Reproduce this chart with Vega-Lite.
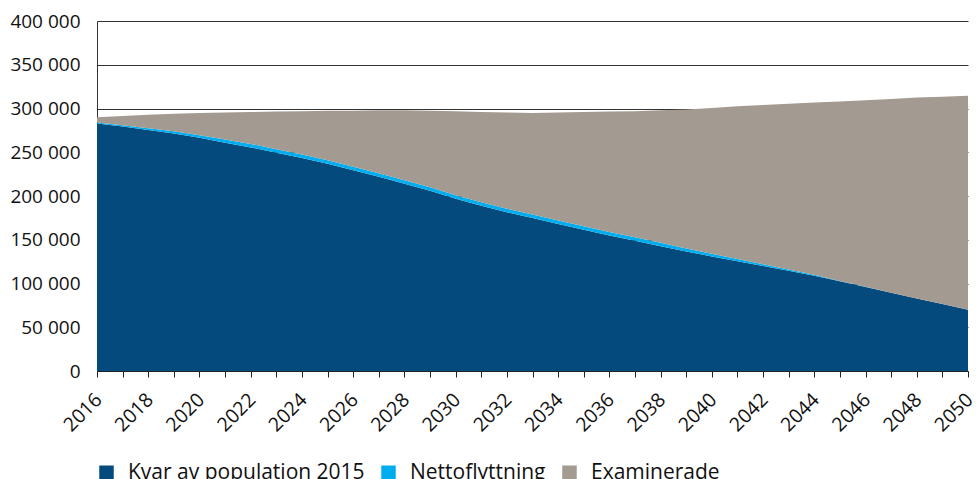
{
  "$schema": "https://vega.github.io/schema/vega-lite/v6.json",
  "width": 871,
  "height": 350,
  "autosize": {"type": "none"},
  "padding": {"left": 97, "top": 21, "right": 8, "bottom": 108},
  "config": {
    "view": {"stroke": null},
    "font": "Open Sans",
    "locale": {"number": {"decimal": ",", "thousands": " ", "grouping": [3], "currency": ["", " kr"]}}
  },
  "data": {
    "values": [
      {"year": 2016, "Kvar av population 2015": 283000, "Nettoflyttning": 1000, "Examinerade": 6000},
      {"year": 2017, "Kvar av population 2015": 279500, "Nettoflyttning": 1500, "Examinerade": 10500},
      {"year": 2018, "Kvar av population 2015": 275500, "Nettoflyttning": 2000, "Examinerade": 15500},
      {"year": 2019, "Kvar av population 2015": 271500, "Nettoflyttning": 2500, "Examinerade": 20000},
      {"year": 2020, "Kvar av population 2015": 266500, "Nettoflyttning": 3000, "Examinerade": 25500},
      {"year": 2021, "Kvar av population 2015": 261000, "Nettoflyttning": 3500, "Examinerade": 31000},
      {"year": 2022, "Kvar av population 2015": 255500, "Nettoflyttning": 4000, "Examinerade": 36500},
      {"year": 2023, "Kvar av population 2015": 249500, "Nettoflyttning": 4000, "Examinerade": 43000},
      {"year": 2024, "Kvar av population 2015": 243500, "Nettoflyttning": 4000, "Examinerade": 49500},
      {"year": 2025, "Kvar av population 2015": 237000, "Nettoflyttning": 4000, "Examinerade": 56500},
      {"year": 2026, "Kvar av population 2015": 229500, "Nettoflyttning": 4000, "Examinerade": 64000},
      {"year": 2027, "Kvar av population 2015": 222000, "Nettoflyttning": 4000, "Examinerade": 72000},
      {"year": 2028, "Kvar av population 2015": 214000, "Nettoflyttning": 4000, "Examinerade": 80000},
      {"year": 2029, "Kvar av population 2015": 206000, "Nettoflyttning": 4000, "Examinerade": 87500},
      {"year": 2030, "Kvar av population 2015": 197000, "Nettoflyttning": 4000, "Examinerade": 96000},
      {"year": 2031, "Kvar av population 2015": 189000, "Nettoflyttning": 4000, "Examinerade": 103000},
      {"year": 2032, "Kvar av population 2015": 181500, "Nettoflyttning": 4000, "Examinerade": 110000},
      {"year": 2033, "Kvar av population 2015": 175000, "Nettoflyttning": 4000, "Examinerade": 116000},
      {"year": 2034, "Kvar av population 2015": 168000, "Nettoflyttning": 4000, "Examinerade": 123500},
      {"year": 2035, "Kvar av population 2015": 161500, "Nettoflyttning": 4000, "Examinerade": 130500},
      {"year": 2036, "Kvar av population 2015": 155000, "Nettoflyttning": 4000, "Examinerade": 137500},
      {"year": 2037, "Kvar av population 2015": 149000, "Nettoflyttning": 4000, "Examinerade": 144000},
      {"year": 2038, "Kvar av population 2015": 142500, "Nettoflyttning": 4000, "Examinerade": 151500},
      {"year": 2039, "Kvar av population 2015": 136500, "Nettoflyttning": 3500, "Examinerade": 159000},
      {"year": 2040, "Kvar av population 2015": 131000, "Nettoflyttning": 3000, "Examinerade": 166500},
      {"year": 2041, "Kvar av population 2015": 125500, "Nettoflyttning": 2500, "Examinerade": 174500},
      {"year": 2042, "Kvar av population 2015": 120000, "Nettoflyttning": 2000, "Examinerade": 182000},
      {"year": 2043, "Kvar av population 2015": 114500, "Nettoflyttning": 1500, "Examinerade": 189500},
      {"year": 2044, "Kvar av population 2015": 109000, "Nettoflyttning": 1000, "Examinerade": 197000},
      {"year": 2045, "Kvar av population 2015": 102500, "Nettoflyttning": 500, "Examinerade": 205000},
      {"year": 2046, "Kvar av population 2015": 96000, "Nettoflyttning": 200, "Examinerade": 213300},
      {"year": 2047, "Kvar av population 2015": 89500, "Nettoflyttning": 0, "Examinerade": 221500},
      {"year": 2048, "Kvar av population 2015": 83000, "Nettoflyttning": 0, "Examinerade": 229500},
      {"year": 2049, "Kvar av population 2015": 76500, "Nettoflyttning": 0, "Examinerade": 237000},
      {"year": 2050, "Kvar av population 2015": 70000, "Nettoflyttning": 0, "Examinerade": 244500}
    ]
  },
  "transform": [
    {"fold": ["Kvar av population 2015", "Nettoflyttning", "Examinerade"], "as": ["category", "value"]},
    {"calculate": "indexof(['Kvar av population 2015', 'Nettoflyttning', 'Examinerade'], datum.category)", "as": "ord"}
  ],
  "mark": {"type": "area", "interpolate": "linear"},
  "encoding": {
    "x": {
      "field": "year",
      "type": "quantitative",
      "scale": {"domain": [2016, 2050], "nice": false, "zero": false},
      "axis": {
        "title": null,
        "values": [2016, 2017, 2018, 2019, 2020, 2021, 2022, 2023, 2024, 2025, 2026, 2027, 2028, 2029, 2030, 2031, 2032, 2033, 2034, 2035, 2036, 2037, 2038, 2039, 2040, 2041, 2042, 2043, 2044, 2045, 2046, 2047, 2048, 2049, 2050],
        "format": "d",
        "labelExpr": "datum.value % 2 == 0 ? '' + datum.value : ''",
        "labelAngle": -45,
        "labelFontSize": 19.5,
        "labelColor": "#111111",
        "labelPadding": 13,
        "labelOffset": -5,
        "labelOverlap": false,
        "labelBound": false,
        "grid": false,
        "tickSize": 6,
        "tickColor": "#222222",
        "domainColor": "#222222"
      }
    },
    "y": {
      "field": "value",
      "type": "quantitative",
      "stack": "zero",
      "scale": {"domain": [0, 400000], "nice": false},
      "axis": {
        "title": null,
        "values": [0, 50000, 100000, 150000, 200000, 250000, 300000, 350000, 400000],
        "format": ",d",
        "labelFontSize": 19,
        "labelColor": "#111111",
        "labelPadding": 17,
        "ticks": false,
        "grid": true,
        "gridColor": "#333333",
        "gridWidth": 1,
        "domainColor": "#333333"
      }
    },
    "color": {
      "field": "category",
      "type": "nominal",
      "scale": {
        "domain": ["Kvar av population 2015", "Nettoflyttning", "Examinerade"],
        "range": ["#044a7c", "#00aeef", "#a39a91"]
      },
      "legend": {
        "title": null,
        "orient": "none",
        "legendX": -1,
        "legendY": 441,
        "direction": "horizontal",
        "symbolType": "square",
        "symbolSize": 210,
        "symbolStrokeWidth": 0,
        "labelFontSize": 21,
        "labelLimit": 0,
        "labelColor": "#111111",
        "labelOffset": 11,
        "columnPadding": 13
      }
    },
    "order": {"field": "ord", "type": "quantitative"}
  }
}
